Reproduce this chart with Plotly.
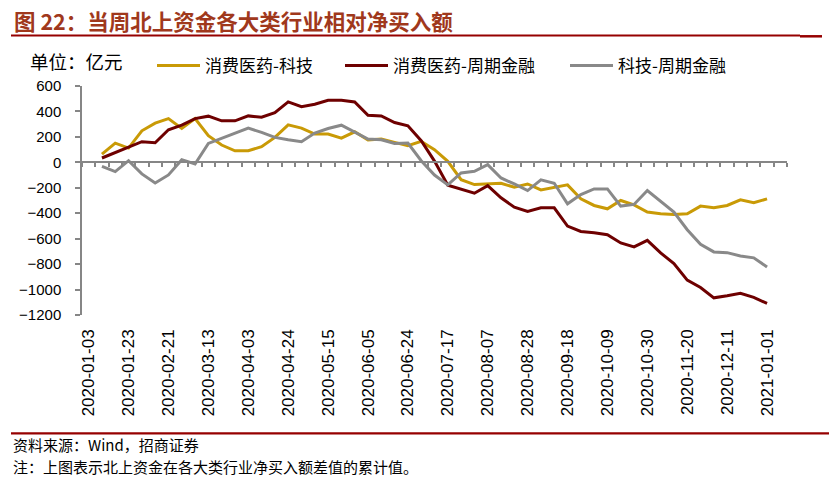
import plotly.graph_objects as go

# ---- data ----
dates = [
    "2020-01-03", "2020-01-10", "2020-01-17", "2020-01-23", "2020-02-07", "2020-02-14",
    "2020-02-21", "2020-02-28", "2020-03-06", "2020-03-13", "2020-03-20", "2020-03-27",
    "2020-04-03", "2020-04-10", "2020-04-17", "2020-04-24", "2020-04-30", "2020-05-08",
    "2020-05-15", "2020-05-22", "2020-05-29", "2020-06-05", "2020-06-12", "2020-06-19",
    "2020-06-24", "2020-07-03", "2020-07-10", "2020-07-17", "2020-07-24", "2020-07-31",
    "2020-08-07", "2020-08-14", "2020-08-21", "2020-08-28", "2020-09-04", "2020-09-11",
    "2020-09-18", "2020-09-25", "2020-09-30", "2020-10-09", "2020-10-16", "2020-10-23",
    "2020-10-30", "2020-11-06", "2020-11-13", "2020-11-20", "2020-11-27", "2020-12-04",
    "2020-12-11", "2020-12-18", "2020-12-25", "2021-01-01", "2021-01-08",
]
tick_labels = dates[0:52:3]

consumer_tech = [
    None, 65, 151, 112, 248, 308, 344, 266, 344, 209, 136, 91, 91, 123, 196, 295, 269, 222,
    222, 190, 240, 175, 183, 157, 130, 165, 100, 8, -136, -175, -170, -164, -196, -170,
    -217, -196, -177, -287, -339, -365, -300, -334, -391, -404, -410, -404, -344, -357,
    -339, -295, -318, -287, None,
]
consumer_cyclical = [
    None, 34, 78, 123, 162, 154, 256, 292, 344, 363, 326, 326, 365, 355, 391, 475, 438, 457,
    488, 488, 475, 370, 365, 313, 287, 170, 10, -180, -209, -243, -183, -279, -352, -386,
    -357, -357, -501, -543, -553, -569, -634, -665, -613, -712, -796, -926, -984, -1065,
    -1049, -1030, -1062, -1109, None,
]
tech_cyclical = [
    None, -31, -73, 13, -91, -162, -99, 21, -13, 149, 188, 230, 269, 235, 196, 177, 162, 230,
    266, 292, 235, 183, 177, 149, 151, 13, -100, -177, -83, -70, -18, -123, -170, -222,
    -138, -164, -326, -253, -209, -209, -344, -331, -222, -308, -391, -530, -644, -704,
    -710, -736, -751, -822, None,
]
series_names = ["消费医药-科技", "消费医药-周期金融", "科技-周期金融"]
colors = ["#C99A06", "#6E0000", "#898989"]

CJK = "Noto Sans CJK SC"
NUM = "Liberation Sans, Arial"
L, R, T, B = 82, 45, 86, 173
W, H = 832, 488
pw, ph = W - L - R, H - T - B


def px_x(p):
    return (p - L) / pw


def px_y(p):
    return (H - B - p) / ph


fig = go.Figure()
fig.add_trace(go.Scatter(x=dates, y=consumer_tech, name=series_names[0], mode="lines",
                         line=dict(color=colors[0], width=3), legend="legend"))
fig.add_trace(go.Scatter(x=dates, y=consumer_cyclical, name=series_names[1], mode="lines",
                         line=dict(color=colors[1], width=3), legend="legend2"))
fig.add_trace(go.Scatter(x=dates, y=tech_cyclical, name=series_names[2], mode="lines",
                         line=dict(color=colors[2], width=3), legend="legend3",
                         xaxis="x2"))

leg_common = dict(orientation="h", yanchor="middle", xanchor="left",
                  bgcolor="rgba(0,0,0,0)", borderwidth=0, itemwidth=43,
                  font=dict(family=CJK, size=17, color="#000000"))
ly = px_y(66)

ymin, ymax = -1200, 600
fig.update_layout(
    width=W, height=H,
    margin=dict(l=L, r=R, t=T, b=B, autoexpand=False),
    paper_bgcolor="white", plot_bgcolor="white",
    showlegend=True,
    legend=dict(x=px_x(152), y=ly, **leg_common),
    legend2=dict(x=px_x(340), y=ly, **leg_common),
    legend3=dict(x=px_x(565), y=ly, **leg_common),
    xaxis=dict(
        type="category", categoryorder="array", categoryarray=dates,
        range=[-0.5, len(dates) - 0.5],
        showline=False, showgrid=False, zeroline=False,
        tickmode="array", tickvals=tick_labels, ticktext=tick_labels,
        tickangle=-90, ticks="", ticklabelstandoff=10,
        tickfont=dict(family=NUM, size=17, color="#000000"),
    ),
    xaxis2=dict(
        type="category", categoryorder="array", categoryarray=dates,
        overlaying="x", matches="x", anchor="free",
        position=(0 - ymin) / (ymax - ymin), side="bottom",
        showline=True, linecolor="#868686", linewidth=1.5,
        ticks="outside", ticklen=4, tickwidth=1.5, tickcolor="#868686",
        tickson="boundaries", tickmode="linear", tick0=0, dtick=1,
        showticklabels=False, showgrid=False, zeroline=False,
    ),
    yaxis=dict(
        range=[ymin, ymax], tickmode="linear", tick0=ymin, dtick=200,
        showline=True, linecolor="#868686", linewidth=1.5,
        ticks="outside", ticklen=5, tickwidth=1.5, tickcolor="#868686",
        showgrid=False, zeroline=False, ticklabelstandoff=11,
        tickfont=dict(family=NUM, size=15, color="#000000"),
    ),
)

annotations = [
    dict(text="<b>图 22：当周北上资金各大类行业相对净买入额</b>", x=px_x(12), y=px_y(21),
         xanchor="left", yanchor="middle", font=dict(family=CJK, size=21.5, color="#A0381C")),
    dict(text="单位：亿元", x=px_x(28), y=px_y(61), xanchor="left", yanchor="middle",
         font=dict(family=CJK, size=18.5, color="#000000")),
    dict(text="资料来源：Wind，招商证券", x=px_x(11), y=px_y(444.5), xanchor="left",
         yanchor="middle", font=dict(family=CJK, size=15, color="#000000")),
    dict(text="注：上图表示北上资金在各大类行业净买入额差值的累计值。", x=px_x(11), y=px_y(466.7),
         xanchor="left", yanchor="middle", font=dict(family=CJK, size=15, color="#000000")),
]
for a in annotations:
    a.update(xref="paper", yref="paper", showarrow=False)
fig.update_layout(annotations=annotations)

rule = "#960000"
fig.update_layout(shapes=[
    dict(type="line", xref="paper", yref="paper", x0=px_x(11), x1=px_x(800),
         y0=px_y(35.5), y1=px_y(35.5), line=dict(color=rule, width=2)),
    dict(type="line", xref="paper", yref="paper", x0=px_x(800), x1=px_x(822),
         y0=px_y(36.3), y1=px_y(36.3), line=dict(color=rule, width=2.5)),
    dict(type="line", xref="paper", yref="paper", x0=px_x(11), x1=px_x(829),
         y0=px_y(433.3), y1=px_y(433.3), line=dict(color=rule, width=2.3)),
])

fig.write_html("out.html", config={"displayModeBar": False},
               post_script="document.body.style.margin='0';document.body.style.overflow='hidden';")
